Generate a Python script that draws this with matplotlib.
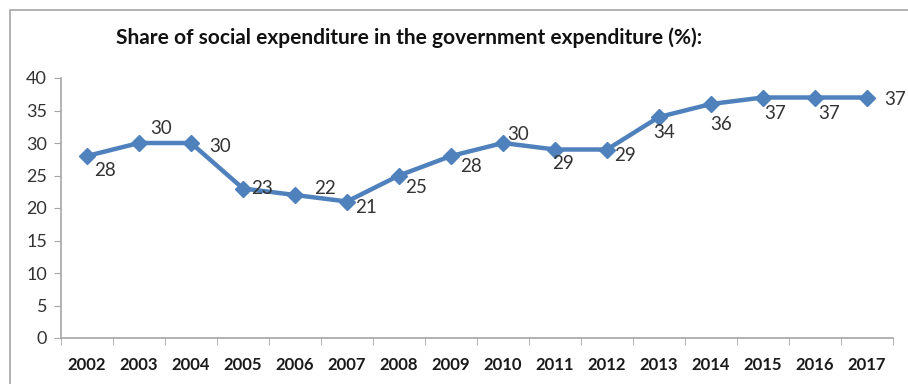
import matplotlib
matplotlib.use("Agg")
import matplotlib.pyplot as plt
from matplotlib.patches import Rectangle

years = ['2002', '2003', '2004', '2005', '2006', '2007', '2008', '2009',
         '2010', '2011', '2012', '2013', '2014', '2015', '2016', '2017']
share = [28, 30, 30, 23, 22, 21, 25, 28, 30, 29, 29, 34, 36, 37, 37, 37]
# label offsets (pixels, right / down) so the numbers sit like in the original sheet
label_dx = [18, 22, 29, 19, 30, 19, 17, 20, 15, 8, 18, 5, 10, 12, 14, 28]
label_dy = [14, -15, 3, 0, -7, 6, 12, 11, -8, 14, 6, 16, 21, 16, 16, 2]
yticks = [0, 5, 10, 15, 20, 25, 30, 35, 40]

plt.rcParams['font.family'] = ['Lato', 'DejaVu Sans']

W, H = 908, 384
fig = plt.figure(figsize=(W / 100, H / 100), dpi=100)
fig.patch.set_facecolor('white')

# outer chart border, running off the right and bottom edges
fig.patches.append(Rectangle((10 / W, -0.1), 1.2, 1 - 10 / H + 0.1,
                             transform=fig.transFigure, fill=False,
                             edgecolor='#a6a6a6', linewidth=1.2))

ax = fig.add_axes([61 / W, (H - 338) / H, 832 / W, 260 / H])
x = list(range(len(years)))
ax.plot(x, share, color='#4f81bd', linewidth=3.2, marker='D', markersize=8.5,
        markerfacecolor='#4f81bd', markeredgecolor='#4f81bd', zorder=3)

for i, v in enumerate(share):
    ax.annotate(str(v), (i, v), xytext=(label_dx[i], -label_dy[i]),
                textcoords='offset pixels', ha='center', va='center',
                fontsize=13.5, color='#333333')

ax.set_xlim(-0.5, len(years) - 0.5)
ax.set_ylim(0, 40)
ax.set_yticks(yticks)
ax.set_yticklabels([str(t) for t in yticks], fontsize=13, color='#333333')
ax.set_xticks(x)
ax.set_xticklabels(years, fontsize=12, fontweight='bold', color='#1a1a1a')
ax.tick_params(axis='x', length=0, pad=14)
ax.tick_params(axis='y', length=5, color='#a6a6a6', pad=5)
# category boundary ticks on the x axis
ax.set_xticks([i - 0.5 for i in range(len(years) + 1)], minor=True)
ax.tick_params(axis='x', which='minor', length=5, color='#a6a6a6')

for s in ['top', 'right']:
    ax.spines[s].set_visible(False)
for s in ['left', 'bottom']:
    ax.spines[s].set_color('#a6a6a6')
    ax.spines[s].set_linewidth(1.2)

fig.text(116 / W, 1 - 38 / H,
         'Share of social expenditure in the government expenditure (%):',
         fontsize=15, fontweight='bold', color='#111111', ha='left', va='center')

fig.savefig('out.png', dpi=100)
